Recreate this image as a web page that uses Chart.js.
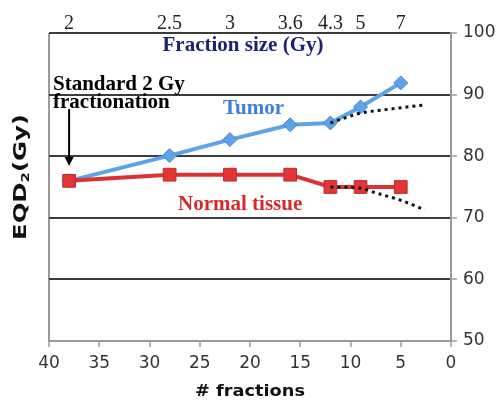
<!DOCTYPE html>
<html>
<head>
<meta charset="utf-8">
<title>EQD2 vs number of fractions</title>
<script src="https://cdn.jsdelivr.net/npm/chart.js@4.4.1/dist/chart.umd.min.js"></script>
<style>
    html, body { margin: 0; padding: 0; background: #ffffff; }
    #wrap { width: 500px; height: 403px; }
</style>
</head>
<body>
<div id="wrap"><canvas id="eqdChart" width="500" height="403"></canvas></div>
<script>
// Number of fractions for each schedule and the matching dose per fraction (Gy)
const fractions = [38, 28, 22, 16, 12, 9, 5];
const fractionSizes = ['2', '2.5', '3', '3.6', '4.3', '5', '7'];

// EQD2 (Gy) per schedule
const tumorEqd2 = [76, 80.1, 82.7, 85.1, 85.4, 88.0, 91.9];
const normalEqd2 = [76, 77, 77, 77, 75, 75, 75];

// Dotted trend curves beyond 12 fractions
const tumorTrendX = [12, 9, 6.8, 2.8];
const tumorTrendY = [85.4, 87.0, 87.5, 88.3];
const normalTrendX = [12, 9, 7.4, 5.1, 2.6];
const normalTrendY = [75, 74.8, 74.0, 72.9, 71.3];

const xTicks = [0, 5, 10, 15, 20, 25, 30, 35, 40];
const yTicks = [50, 60, 70, 80, 90, 100];

const toPoints = (xs, ys) => xs.map((x, i) => ({ x: x, y: ys[i] }));

const AXIS_GREY = '#9a9a9a';
const GRID_DARK = '#3c3c3c';

// text drawn at a fixed length (stretches the font along its baseline)
function fitText(ctx, text, x, y, targetWidth) {
    const w = ctx.measureText(text).width;
    ctx.save();
    ctx.translate(x, y);
    ctx.scale(targetWidth / w, 1);
    ctx.fillText(text, 0, 0);
    ctx.restore();
}

const annotations = {
    id: 'annotations',
    afterDraw(chart) {
        const ctx = chart.ctx;
        const xs = chart.scales.x;
        const area = chart.chartArea;
        ctx.save();

        // top axis title
        ctx.font = 'bold 21px "Liberation Serif"';
        ctx.fillStyle = '#1c2370';
        ctx.textAlign = 'center';
        ctx.textBaseline = 'alphabetic';
        ctx.fillText('Fraction size (Gy)', 243, 51);

        // standard schedule note + arrow
        ctx.fillStyle = '#000000';
        ctx.textAlign = 'left';
        ctx.fillText('Standard 2 Gy', 53, 90);
        ctx.fillText('fractionation', 53, 108);

        const ax = xs.getPixelForValue(fractions[0]);
        ctx.strokeStyle = '#000000';
        ctx.lineWidth = 2;
        ctx.beginPath();
        ctx.moveTo(ax, 109);
        ctx.lineTo(ax, 158);
        ctx.stroke();
        ctx.beginPath();
        ctx.moveTo(ax - 4.5, 157);
        ctx.lineTo(ax + 4.5, 157);
        ctx.lineTo(ax, 166);
        ctx.closePath();
        ctx.fill();

        // series labels
        ctx.fillStyle = '#3f7fdc';
        ctx.fillText('Tumor', 223, 114);
        ctx.fillStyle = '#d62b2b';
        ctx.fillText('Normal tissue', 178, 210);

        // bottom axis title
        ctx.fillStyle = '#111111';
        ctx.font = 'bold 16px "DejaVu Sans"';
        const bw = 110;
        fitText(ctx, '# fractions', (area.left + area.right) / 2 - bw / 2, 396, bw);

        // left axis title, rotated, with subscript
        ctx.save();
        ctx.translate(26, 240);
        ctx.rotate(-Math.PI / 2);
        ctx.font = 'bold 18px "DejaVu Sans"';
        const wA = ctx.measureText('EQD').width;
        ctx.font = 'bold 11px "DejaVu Sans"';
        const wS = ctx.measureText('2').width;
        ctx.font = 'bold 18px "DejaVu Sans"';
        const wB = ctx.measureText('(Gy)').width;
        const k = 126 / (wA + wS + wB);
        ctx.scale(k, 1);
        ctx.fillText('EQD', 0, 0);
        ctx.font = 'bold 11px "DejaVu Sans"';
        ctx.fillText('2', wA, 3);
        ctx.font = 'bold 18px "DejaVu Sans"';
        ctx.fillText('(Gy)', wA + wS, 0);
        ctx.restore();

        ctx.restore();
    }
};

new Chart(document.getElementById('eqdChart'), {
    type: 'line',
    data: {
        datasets: [
            {
                label: 'Tumor trend',
                data: toPoints(tumorTrendX, tumorTrendY),
                xAxisID: 'x', yAxisID: 'y',
                borderColor: '#111111',
                borderWidth: 3,
                borderDash: [3, 4],
                pointRadius: 0,
                cubicInterpolationMode: 'monotone',
                order: 1
            },
            {
                label: 'Normal trend',
                data: toPoints(normalTrendX, normalTrendY),
                xAxisID: 'x', yAxisID: 'y',
                borderColor: '#111111',
                borderWidth: 3,
                borderDash: [3, 4],
                pointRadius: 0,
                cubicInterpolationMode: 'monotone',
                order: 1
            },
            {
                label: 'Normal tissue',
                data: toPoints(fractions, normalEqd2),
                xAxisID: 'x', yAxisID: 'y',
                borderColor: '#da3333',
                backgroundColor: '#e23535',
                borderWidth: 4,
                pointStyle: 'rect',
                pointRadius: 9,
                pointBackgroundColor: '#e23535',
                pointBorderColor: '#c42a2a',
                pointBorderWidth: 1,
                order: 2
            },
            {
                label: 'Tumor',
                data: toPoints(fractions, tumorEqd2),
                xAxisID: 'x', yAxisID: 'y',
                borderColor: '#5ea2ea',
                backgroundColor: '#5ea2ea',
                borderWidth: 4,
                pointStyle: 'rectRot',
                pointRadius: 7,
                pointBackgroundColor: '#5ea2ea',
                pointBorderColor: '#4a88cc',
                pointBorderWidth: 1,
                order: 3
            }
        ]
    },
    options: {
        responsive: false,
        animation: false,
        layout: { padding: { left: 49, top: 0, right: 0, bottom: 0 } },
        plugins: {
            legend: { display: false },
            tooltip: { enabled: false }
        },
        scales: {
            x: {
                type: 'linear',
                position: 'bottom',
                min: 0,
                max: 40,
                reverse: true,
                afterBuildTicks: s => { s.ticks = xTicks.map(v => ({ value: v })); },
                ticks: {
                    color: '#333333',
                    font: { family: 'DejaVu Sans', size: 17 },
                    padding: 6,
                    maxRotation: 0,
                    autoSkip: false
                },
                grid: {
                    drawOnChartArea: true,
                    color: c => (c.tick && c.tick.value === 40) ? AXIS_GREY : 'rgba(0,0,0,0)',
                    lineWidth: 2,
                    tickColor: AXIS_GREY,
                    tickLength: 6,
                    tickWidth: 1.5
                },
                border: { color: AXIS_GREY, width: 2 },
                afterFit: s => { s.height = 62; }
            },
            x2: {
                type: 'linear',
                position: 'top',
                min: 0,
                max: 40,
                reverse: true,
                afterBuildTicks: s => { s.ticks = fractions.map(v => ({ value: v })); },
                ticks: {
                    color: '#222222',
                    font: { family: 'Liberation Serif', size: 20 },
                    padding: -3,
                    maxRotation: 0,
                    autoSkip: false,
                    callback: v => fractionSizes[fractions.indexOf(v)]
                },
                grid: { display: false, drawTicks: false },
                border: { display: false },
                afterFit: s => { s.height = 33; }
            },
            y: {
                position: 'right',
                min: 50,
                max: 100,
                afterBuildTicks: s => { s.ticks = yTicks.map(v => ({ value: v })); },
                ticks: {
                    color: '#333333',
                    font: { family: 'DejaVu Sans', size: 17 },
                    padding: 6
                },
                grid: {
                    color: c => (c.tick && c.tick.value === 50) ? 'rgba(0,0,0,0)' : GRID_DARK,
                    lineWidth: 2,
                    tickColor: AXIS_GREY,
                    tickLength: 6,
                    tickWidth: 1.5
                },
                border: { color: AXIS_GREY, width: 2 },
                afterFit: s => { s.width = 49; }
            }
        }
    },
    plugins: [annotations]
});
</script>
</body>
</html>
